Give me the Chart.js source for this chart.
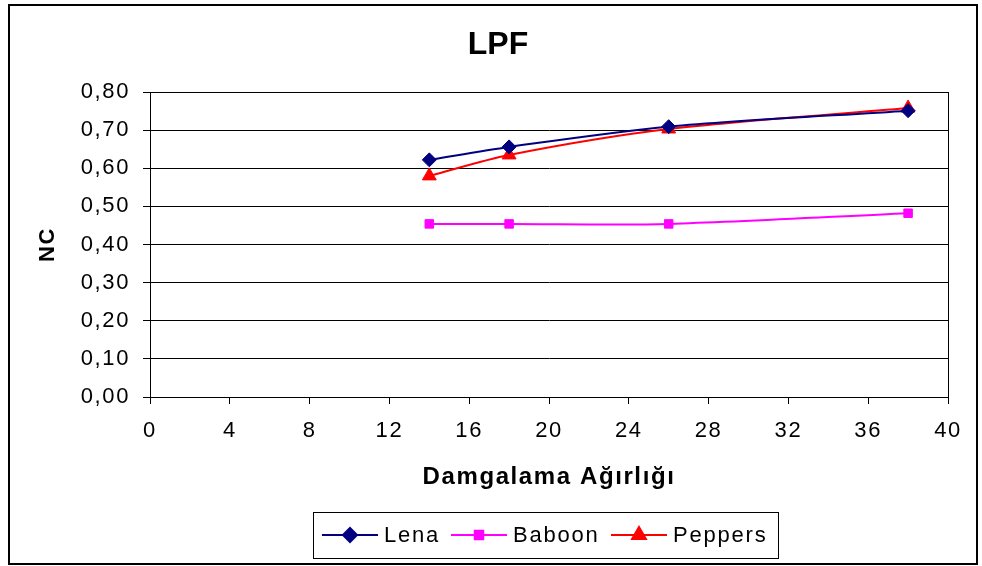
<!DOCTYPE html>
<html>
<head>
<meta charset="utf-8">
<script src="https://cdn.jsdelivr.net/npm/chart.js@4.4.1/dist/chart.umd.min.js"></script>
<style>
  html, body { margin: 0; padding: 0; background: #fff; }
  #wrap { width: 982px; height: 566px; position: relative; }
</style>
</head>
<body>
<div id="wrap"><canvas id="chart" width="982" height="566"></canvas></div>
<script>
  const xValues = [14, 18, 26, 38];
  const lenaValues = [0.622, 0.656, 0.709, 0.751];
  const baboonValues = [0.454, 0.454, 0.454, 0.482];
  const peppersValues = [0.580, 0.635, 0.703, 0.758];
  const seriesNames = ["Lena", "Baboon", "Peppers"];
  const chartTitle = "LPF";
  const xTitle = "Damgalama Ağırlığı";
  const yTitle = "NC";

  const fontFamily = "'Liberation Sans', Arial, sans-serif";

  function toPoints(values) {
    return xValues.map((x, i) => ({ x, y: values[i] }));
  }

  function formatTick(value) {
    return Number(value).toFixed(2).replace(".", ",");
  }

  const seriesStyles = [
    { color: "#000080", pointStyle: "rectRot", radius: 7 },
    { color: "#ff00ff", pointStyle: "rect", radius: 6 },
    { color: "#ff0000", pointStyle: "triangle", radius: 8 }
  ];

  const datasets = [lenaValues, baboonValues, peppersValues].map((values, i) => ({
    label: seriesNames[i],
    data: toPoints(values),
    borderColor: seriesStyles[i].color,
    backgroundColor: seriesStyles[i].color,
    borderWidth: 2,
    pointStyle: seriesStyles[i].pointStyle,
    pointRadius: seriesStyles[i].radius,
    pointBorderWidth: 1,
    tension: 0.3,
    fill: false
  }));

  // Excel text is a bit wider than the canvas font, so spread letters a little
  const spacingPlugin = {
    id: "spacing",
    beforeDraw(chart) {
      chart.ctx.letterSpacing = "1.6px";
    }
  };

  // frame, title and Excel-like legend
  const decorPlugin = {
    id: "decor",
    afterDraw(chart) {
      const { ctx, chartArea } = chart;
      ctx.save();
      ctx.strokeStyle = "#000";
      ctx.lineWidth = 1;
      ctx.strokeRect(chartArea.left + 0.5, chartArea.top + 0.5,
        chartArea.right - chartArea.left, chartArea.bottom - chartArea.top);
      ctx.lineWidth = 2;
      ctx.strokeRect(9, 5, 968, 559);

      ctx.fillStyle = "#000";
      ctx.letterSpacing = "0px";
      ctx.font = "bold 32px " + fontFamily;
      ctx.textAlign = "center";
      ctx.textBaseline = "middle";
      ctx.fillText(chartTitle, 498, 45);

      // legend box
      ctx.lineWidth = 1;
      ctx.strokeRect(313.5, 512.5, 465, 46);
      ctx.letterSpacing = "1.8px";
      ctx.font = "22px " + fontFamily;
      ctx.textAlign = "left";
      const starts = [322, 451, 611];
      chart.data.datasets.forEach((ds, i) => {
        const x0 = starts[i];
        const y = 535;
        ctx.strokeStyle = ds.borderColor;
        ctx.lineWidth = 2;
        ctx.beginPath();
        ctx.moveTo(x0, y);
        ctx.lineTo(x0 + 56, y);
        ctx.stroke();
        ctx.fillStyle = ds.backgroundColor;
        Chart.helpers.drawPoint(ctx, {
          pointStyle: ds.pointStyle,
          radius: ds.pointRadius,
          borderWidth: 1
        }, x0 + 28, y);
        ctx.fillStyle = "#000";
        ctx.fillText(ds.label, x0 + 62, y + 1);
      });
      ctx.restore();
    }
  };

  new Chart(document.getElementById("chart"), {
    type: "line",
    data: { datasets },
    options: {
      responsive: false,
      animation: false,
      layout: { padding: { top: 92, right: 34, bottom: 66, left: 0 } },
      plugins: {
        legend: { display: false },
        title: { display: false },
        tooltip: { enabled: false }
      },
      scales: {
        x: {
          type: "linear",
          min: 0,
          max: 40,
          afterFit(scale) { scale.height = 103; },
          ticks: {
            stepSize: 4,
            color: "#000",
            padding: 14,
            font: { size: 22, family: fontFamily }
          },
          grid: {
            drawOnChartArea: false,
            color: "#000",
            tickLength: 7
          },
          border: { color: "#000", width: 1 },
          title: {
            display: true,
            text: xTitle,
            color: "#000",
            font: { size: 24, weight: "bold", family: fontFamily },
            padding: { top: 0, bottom: 8 }
          }
        },
        y: {
          min: 0,
          max: 0.8,
          afterFit(scale) { scale.width = 150; },
          ticks: {
            stepSize: 0.1,
            color: "#000",
            padding: 13,
            font: { size: 22, family: fontFamily },
            callback: (value) => formatTick(value)
          },
          grid: {
            color: "#000",
            tickLength: 7
          },
          border: { color: "#000", width: 1 },
          title: {
            display: true,
            text: yTitle,
            color: "#000",
            font: { size: 22, weight: "bold", family: fontFamily },
            padding: { top: 35, bottom: 0 }
          }
        }
      }
    },
    plugins: [spacingPlugin, decorPlugin]
  });
</script>
</body>
</html>
